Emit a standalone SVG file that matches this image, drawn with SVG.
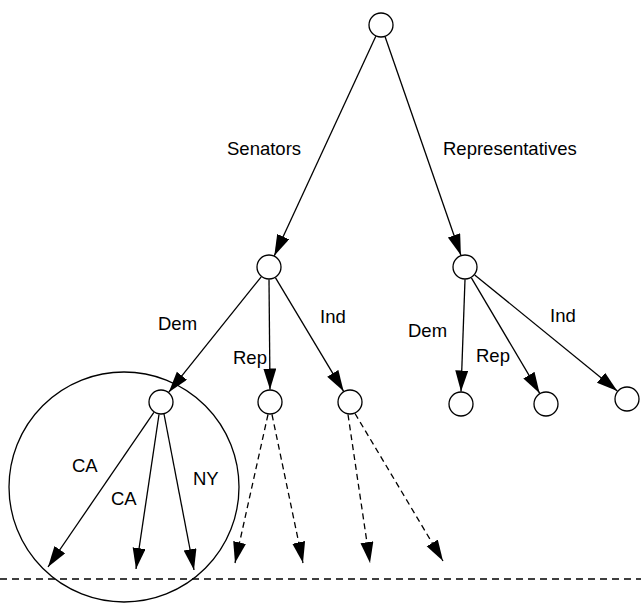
<svg xmlns="http://www.w3.org/2000/svg" width="641" height="605" viewBox="0 0 641 605">
<style>
.node{fill:#fff;stroke:#000;stroke-width:1.3}
.edge{stroke:#000;stroke-width:1.3;fill:none;marker-end:url(#arr)}
.dash{stroke-dasharray:6,4}
.lbl{font-family:"Liberation Sans",Arial,sans-serif;font-size:18.5px;fill:#000}
</style>
<defs>
<marker id="arr" markerUnits="userSpaceOnUse" markerWidth="23" markerHeight="14" refX="21" refY="6.5" orient="auto">
<path d="M0,0 L21,6.5 L0,13 z" fill="#000"/>
</marker>
</defs>
<rect width="641" height="605" fill="#fff"/>
<g id="group-circle"><circle cx="124" cy="487" r="115" fill="none" stroke="#000" stroke-width="1.3"/></g>
<line x1="0" y1="579" x2="641" y2="579" stroke="#000" stroke-width="1.3" stroke-dasharray="7,5"/>
<g id="connectors">
<line class="edge" x1="375.8" y1="36.3" x2="274.3" y2="255.7"/>
<line class="edge" x1="385.1" y1="36.8" x2="460.9" y2="255.2"/>
<line class="edge" x1="261.2" y1="276.8" x2="168.8" y2="392.2"/>
<line class="edge" x1="269" y1="279.5" x2="270" y2="389.5"/>
<line class="edge" x1="275.4" y1="277.7" x2="343.6" y2="391.3"/>
<line class="edge" x1="465" y1="279.5" x2="461" y2="391.5"/>
<line class="edge" x1="471.4" y1="277.8" x2="539.6" y2="393.2"/>
<line class="edge" x1="474.7" y1="274.9" x2="617.3" y2="391.1"/>
<line class="edge" x1="153.9" y1="412.3" x2="48" y2="567"/>
<line class="edge" x1="159" y1="414.5" x2="136" y2="569"/>
<line class="edge" x1="164" y1="414" x2="194" y2="570"/>
<line class="edge dash" x1="268" y1="414.5" x2="235" y2="563"/>
<line class="edge dash" x1="272" y1="414.5" x2="303" y2="563"/>
<line class="edge dash" x1="348" y1="414.5" x2="370" y2="563"/>
<line class="edge dash" x1="355" y1="413.5" x2="443" y2="561"/>
</g>
<g id="root"><circle class="node" cx="381" cy="25" r="12"/></g>
<g id="senators"><circle class="node" cx="269" cy="267" r="12"/></g>
<g id="representatives"><circle class="node" cx="465" cy="267" r="12"/></g>
<g id="sen-dem"><circle class="node" cx="161" cy="402" r="12"/></g>
<g id="sen-rep"><circle class="node" cx="270" cy="402" r="12"/></g>
<g id="sen-ind"><circle class="node" cx="350" cy="402" r="12"/></g>
<g id="rep-dem"><circle class="node" cx="461" cy="404" r="12"/></g>
<g id="rep-rep"><circle class="node" cx="546" cy="404" r="12"/></g>
<g id="rep-ind"><circle class="node" cx="627" cy="399" r="12"/></g>
<g id="labels">
<text class="lbl" x="227" y="155">Senators</text>
<text class="lbl" x="443" y="155">Representatives</text>
<text class="lbl" x="158" y="330">Dem</text>
<text class="lbl" x="233" y="364">Rep</text>
<text class="lbl" x="320" y="323">Ind</text>
<text class="lbl" x="408" y="337">Dem</text>
<text class="lbl" x="476" y="362">Rep</text>
<text class="lbl" x="550" y="322">Ind</text>
<text class="lbl" x="72" y="472">CA</text>
<text class="lbl" x="111" y="505">CA</text>
<text class="lbl" x="193" y="485">NY</text>
</g>
</svg>
